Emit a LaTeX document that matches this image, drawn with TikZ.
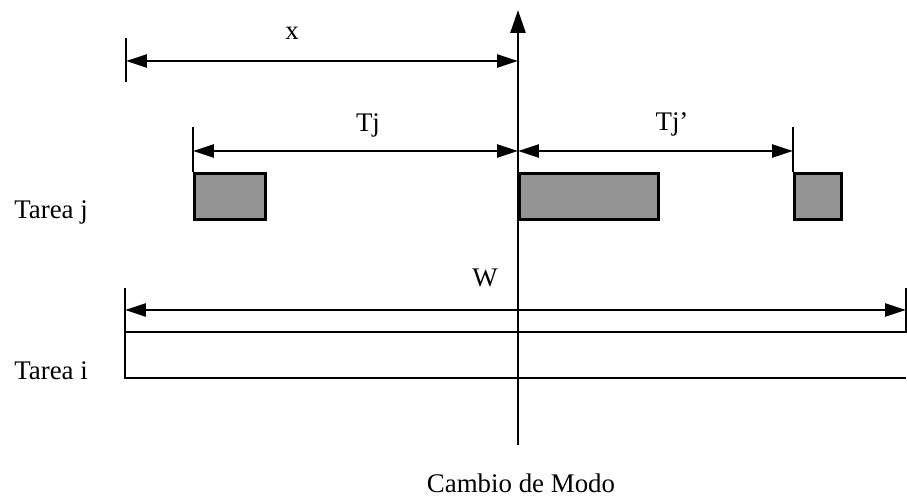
\documentclass[tikz,border=0pt]{standalone}
\usepackage{fontspec}
\setmainfont{Liberation Serif}
\usetikzlibrary{positioning, arrows.meta, calc}

\begin{document}
\begin{tikzpicture}[x=0.02cm, y=-0.02cm, font=\fontsize{15.3}{18}\selectfont]
    \tikzstyle{dimline} = [line width=1.4pt, {Triangle[length=4.2mm, width=2.6mm]}-{Triangle[length=4.2mm, width=2.6mm]}]
    \tikzstyle{tickline} = [line width=1.4pt]
    \tikzstyle{job} = [draw, line width=1.7pt, fill=black!42, minimum height=0.92cm, anchor=north west, inner sep=0pt]
    \tikzstyle{lbl} = [anchor=base, inner sep=0pt]

    \useasboundingbox (0,0) rectangle (907,499);

    % eje: cambio de modo
    \coordinate (ejeTop) at (518,10);
    \coordinate (ejeBot) at (518,445);
    \draw [line width=1.5pt, -{Triangle[length=4.6mm, width=3mm]}] (ejeBot) -- (ejeTop);
    \node [lbl] (cambio) at (521,493) {Cambio de Modo};

    % x
    \coordinate (xTop) at (126,38);
    \coordinate (xBot) at (126,82);
    \coordinate (xIni) at (126,61);
    \draw [tickline] (xTop) -- (xBot);
    \draw [dimline] (xIni) -- (xIni -| ejeTop);
    \node [lbl] (xLbl) at (292,40) {x};

    % tarea j
    \node [anchor=base west, inner sep=0pt] (tareaJ) at (14,219) {Tarea j};
    \node [job, minimum width=1.42cm] (job1) at (193,172) {};
    \node [job, minimum width=2.78cm] (job2) at (518,172) {};
    \node [job, minimum width=0.94cm] (job3) at (793,172) {};
    \coordinate (tjIni) at ($(job1.north west)+(0,-45)$);
    \coordinate (tjFin) at ($(job3.north west)+(0,-45)$);
    \draw [tickline] (job1.north west) -- (tjIni);
    \draw [tickline] (job3.north west) -- (tjFin);
    \draw [dimline] ($(tjIni)+(0,24)$) -- ($(tjIni -| ejeTop)+(0,24)$);
    \draw [dimline] ($(tjIni -| ejeTop)+(0,24)$) -- ($(tjFin)+(0,24)$);
    \node [lbl] (tjLbl) at (368,132) {Tj};
    \node [lbl] (tjpLbl) at (672,131) {Tj'};

    % tarea i
    \node [anchor=base west, inner sep=0pt] (tareaI) at (14,380) {Tarea i};
    \coordinate (wTop) at (125,288);
    \coordinate (iBot) at (125,378);
    \coordinate (iTop) at (125,332);
    \coordinate (wFinTop) at (906,288);
    \coordinate (wFinBot) at (906,332);
    \draw [tickline] (wTop) -- (iBot) -- (iBot -| wFinBot);
    \draw [tickline] (iTop) -- (wFinBot) -- (wFinTop);
    \draw [dimline] (125,310) -- (906,310);
    \node [lbl] (wLbl) at (485,287) {W};
\end{tikzpicture}
\end{document}
